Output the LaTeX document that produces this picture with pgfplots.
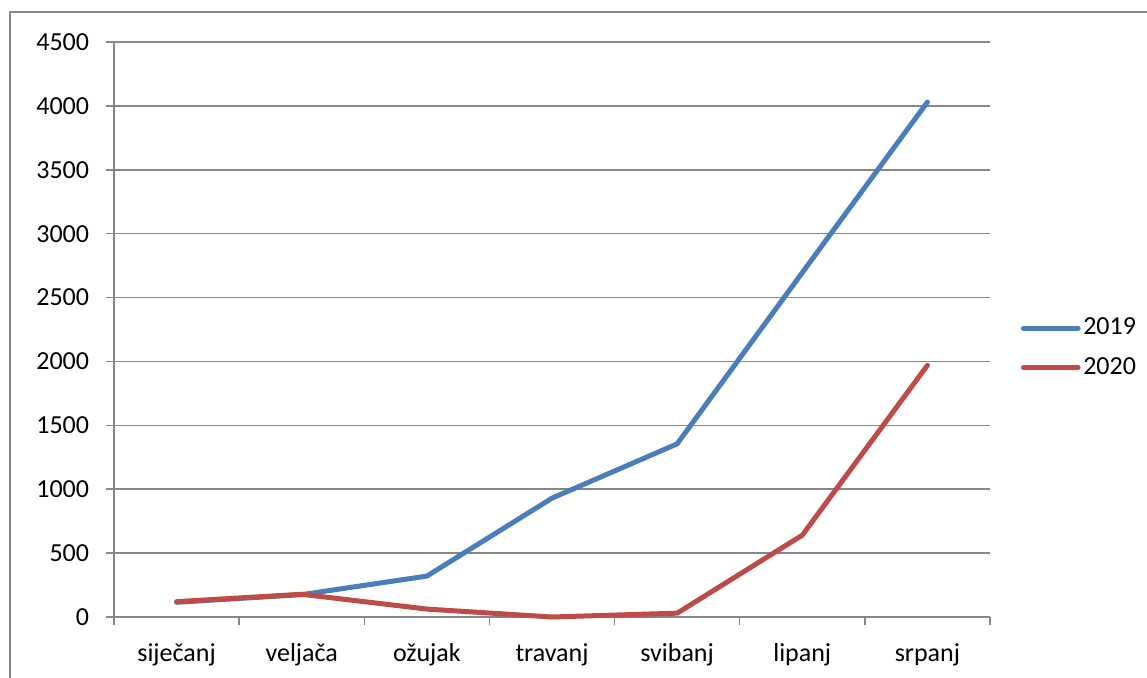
\documentclass[border=0pt]{standalone}
\usepackage{fontspec}
\setmainfont{Carlito}
\usepackage{pgfplots}
\pgfplotsset{compat=1.18}
\definecolor{s1}{HTML}{4A7EBB}
\definecolor{s2}{HTML}{BE4B48}
\definecolor{gg}{HTML}{868686}
\begin{document}
\fontsize{19.5}{23}\selectfont
\begin{tikzpicture}
\useasboundingbox (-85.5pt,-45.75pt) rectangle (774.75pt,462.75pt);
\begin{axis}[
 scale only axis, width=657pt, height=431.25pt,
 clip=false,
 xmin=-0.5, xmax=6.5, ymin=0, ymax=4500,
 xtick={0,...,6},
 xticklabels={siječanj,veljača,ožujak,travanj,svibanj,lipanj,srpanj},
 minor xtick={-0.5,0.5,...,6.5},
 ytick={0,500,...,4500},
 /pgf/number format/assume math mode=true,
 /pgf/number format/1000 sep={},
 axis lines*=left,
 axis line style={draw=gg, line width=1.1pt, -},
 ymajorgrids, grid style={draw=gg, line width=1.1pt},
 tick align=outside,
 major tick length=6pt, minor tick length=6pt,
 x tick style={draw=none},
 minor x tick style={draw=gg, line width=1.1pt},
 y tick style={draw=gg, line width=1.1pt},
 tick label style={font=\fontsize{19.5}{23}\selectfont},
 yticklabel style={xshift=-6pt},
 xticklabel style={yshift=-7pt},
 legend style={draw=none, fill=none, at={(1.035,0.468)}, anchor=west,
   font=\fontsize{19.5}{23}\selectfont, row sep=10pt, inner sep=0pt},
 legend cell align=left,
 legend image code/.code={\draw[#1, line cap=round] (0pt,0pt) -- (41pt,0pt);},
]
\draw[gg, line width=1.5pt] (rel axis cs:-0.1187,-0.15) -- (rel axis cs:-0.1187,1.052) -- (rel axis cs:1.2,1.052);
\addplot[s1, line width=3.75pt, line cap=round, line join=round] coordinates {
 (0,115) (1,175) (2,320) (3,930) (4,1355) (5,2695) (6,4030)};
\addlegendentry{2019}
\addplot[s2, line width=3.75pt, line cap=round, line join=round] coordinates {
 (0,120) (1,178) (2,62) (3,0) (4,30) (5,640) (6,1970)};
\addlegendentry{2020}
\end{axis}
\end{tikzpicture}
\end{document}
